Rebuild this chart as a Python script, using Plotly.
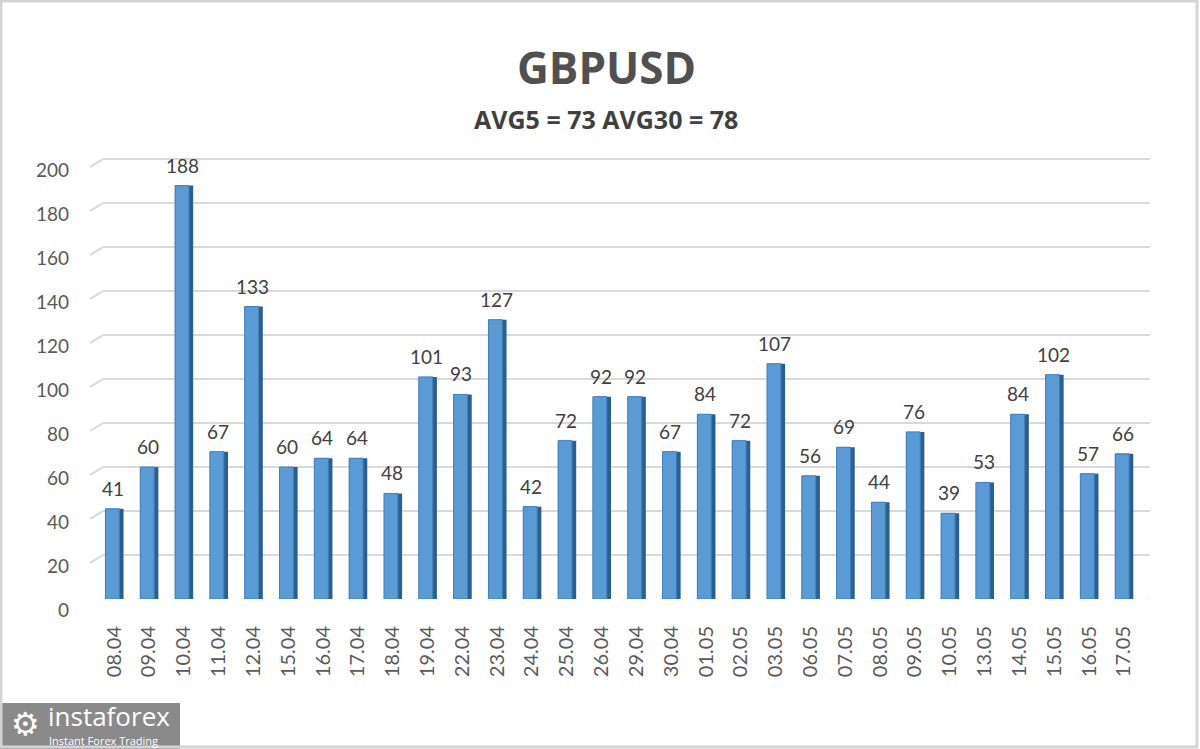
"""GBPUSD daily volatility bars"""
import plotly.graph_objects as go

dates = ["08.04", "09.04", "10.04", "11.04", "12.04", "15.04", "16.04",
         "17.04", "18.04", "19.04", "22.04", "23.04", "24.04", "25.04",
         "26.04", "29.04", "30.04", "01.05", "02.05", "03.05", "06.05",
         "07.05", "08.05", "09.05", "10.05", "13.05", "14.05", "15.05",
         "16.05", "17.05"]
values = [41, 60, 188, 67, 133, 60, 64, 64, 48, 101, 93, 127, 42, 72, 92,
          92, 67, 84, 72, 107, 56, 69, 44, 76, 39, 53, 84, 102, 57, 66]
y_ticks = [0, 20, 40, 60, 80, 100, 120, 140, 160, 180, 200]

title = "GBPUSD"
subtitle = "AVG5 = 73 AVG30 = 78"

W, H = 1200, 749
L, R, T, B = 103, 50, 157, 150
FONT = "Lato"


def px_x(px):
    return (px - L) / (W - L - R)


def px_y(py):
    return (H - B - py) / (H - T - B)


fig = go.Figure()

# dark right side of the "3d" bars
fig.add_trace(go.Bar(
    x=dates, y=values, width=0.52, offset=-0.25,
    marker=dict(color="#2b5f8e", line=dict(width=0)),
    hoverinfo="skip",
))
# front face
fig.add_trace(go.Bar(
    x=dates, y=values, width=0.40, offset=-0.25,
    marker=dict(color="#5b9bd5", line=dict(color="#3f7fbf", width=1)),
))

for i, v in enumerate(values):
    fig.add_annotation(x=i, y=v, text=str(v), showarrow=False,
                       yanchor="bottom", xshift=-1, yshift=7,
                       font=dict(family=FONT, size=19, color="#404040"))

shapes = []
# slanted stubs of the gridlines on the left wall
for t in y_ticks:
    shapes.append(dict(type="line", xref="paper", yref="y",
                       x0=px_x(90), x1=px_x(103), y0=t - 3.6, y1=t,
                       line=dict(color="#d9d9d9", width=2)))
# floor front edge
shapes.append(dict(type="line", xref="paper", yref="y",
                   x0=px_x(90), x1=px_x(1138), y0=-3.6, y1=-3.6,
                   line=dict(color="#d9d9d9", width=2)))
shapes.append(dict(type="line", xref="paper", yref="y",
                   x0=px_x(1138), x1=px_x(1150), y0=-3.6, y1=0,
                   line=dict(color="#d9d9d9", width=2)))
# outer frame
shapes.append(dict(type="rect", xref="paper", yref="paper",
                   x0=px_x(1), x1=px_x(1197), y0=px_y(747), y1=px_y(1),
                   line=dict(color="#d4d4d4", width=3)))
# logo box
shapes.append(dict(type="rect", xref="paper", yref="paper",
                   x0=px_x(0), x1=px_x(180), y0=px_y(749), y1=px_y(703),
                   fillcolor="#8a8a8a", line=dict(width=0), layer="below"))

logo_texts = [
    ("⚙", 25, 724, "DejaVu Sans", 32, "center"),
    ("instaforex", 46, 716, "Open Sans", 26, "left"),
    ("Instant Forex Trading", 47, 740, "Open Sans", 11, "left"),
]
for txt, x, y, fam, size, anchor in logo_texts:
    fig.add_annotation(xref="paper", yref="paper", x=px_x(x), y=px_y(y),
                       xanchor=anchor, yanchor="middle", text=txt,
                       showarrow=False,
                       font=dict(family=fam, size=size, color="white"))

fig.add_annotation(xref="paper", yref="paper", x=px_x(606), y=px_y(67),
                   xanchor="center", yanchor="middle",
                   text="<b>" + title + "</b>", showarrow=False,
                   font=dict(family="Open Sans", size=44, color="#505050"))
fig.add_annotation(xref="paper", yref="paper", x=px_x(606), y=px_y(119),
                   xanchor="center", yanchor="middle",
                   text="<b>" + subtitle + "</b>", showarrow=False,
                   font=dict(family="Open Sans", size=25, color="#404040"))

fig.update_layout(
    width=W, height=H,
    margin=dict(l=L, r=R, t=T, b=B),
    paper_bgcolor="white", plot_bgcolor="white",
    barmode="overlay", showlegend=False,
    shapes=shapes,
)
fig.update_xaxes(
    type="category", range=[-0.32, 29.75],
    tickangle=-90, ticks="", showgrid=False, zeroline=False,
    ticklabelstandoff=22,
    tickfont=dict(family=FONT, size=20, color="#595959"),
)
fig.update_yaxes(
    range=[0, 201], tickvals=y_ticks,
    showgrid=True, gridcolor="#d9d9d9", gridwidth=2, zeroline=False,
    ticks="", ticklabelshift=11, ticklabelstandoff=33,
    tickfont=dict(family=FONT, size=19, color="#595959"),
)

fig.write_html("out.html", config={"displayModeBar": False},
               post_script="document.body.style.margin='0';")
